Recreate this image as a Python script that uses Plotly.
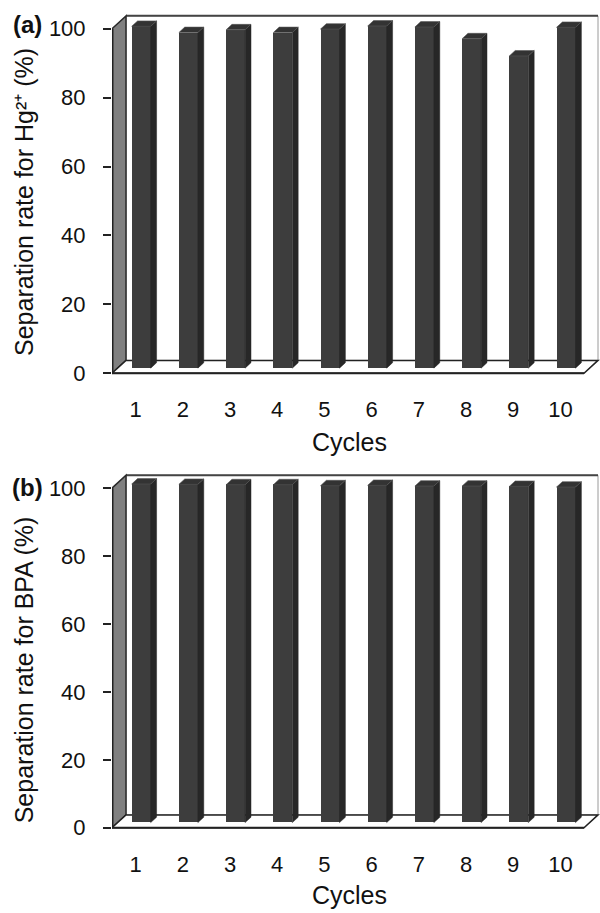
import plotly.graph_objects as go

# ---------------- data ----------------
cycles = [1, 2, 3, 4, 5, 6, 7, 8, 9, 10]
hg_rate = [99.2, 97.4, 98.2, 97.4, 98.4, 99.3, 99.0, 95.6, 90.6, 98.9]
bpa_rate = [99.7, 99.6, 99.5, 99.5, 99.2, 99.3, 99.1, 99.1, 99.0, 98.8]
y_ticks = [0, 20, 40, 60, 80, 100]
x_tick_labels = [str(c) for c in cycles]
panel_labels = ["(a)", "(b)"]
y_titles = ["Separation rate for Hg²⁺ (%)", "Separation rate for BPA (%)"]
x_title = "Cycles"

# ---------------- layout constants (pixels) ----------------
W, H = 600, 913
AX_LEFT, AX_RIGHT = 112, 600
CAT_PX = 47.2            # pixels per category on the front plane
DEPTH_X, DEPTH_Y = 14, 13  # 3D depth offset in pixels
BAR_W_PX = 19
BAR_F0 = 0.40            # depth fraction of bar front face
BAR_DD = 0.42            # bar depth fraction
FONT = "Liberation Sans, Arial, sans-serif"

panels = [
    dict(values=hg_rate, top=16, zero=377, hundred=29, label_y=25, title_y=204, cyc_y=446),
    dict(values=bpa_rate, top=480, zero=836, hundred=493, label_y=492, title_y=677, cyc_y=904),
]

fig = go.Figure()
shapes = []
annotations = []
n = len(cycles)
x0 = cycles[0] - 0.5
x1 = cycles[-1] + 0.5
xr = [x0, x0 + (AX_RIGHT - AX_LEFT) / CAT_PX]
dxu = DEPTH_X / CAT_PX
bw = BAR_W_PX / CAT_PX

def path(pts):
    return "M " + " L ".join(f"{x},{y}" for x, y in pts) + " Z"

for k, p in enumerate(panels):
    ppu = (p["zero"] - p["hundred"]) / 100.0
    dyu = DEPTH_Y / ppu
    pad_bot, pad_top = 4, 3
    yr = [-pad_bot / ppu, (p["zero"] - p["top"] + pad_top) / ppu]
    dom = [1 - (p["zero"] + pad_bot) / H, 1 - (p["top"] - pad_top) / H]
    sfx = "" if k == 0 else str(k + 1)
    xa, ya = "x" + sfx, "y" + sfx
    ytop = 100 + dyu

    # back wall
    shapes.append(dict(type="path", xref=xa, yref=ya, layer="below",
                       path=path([(x0 + dxu, dyu), (x0 + dxu, ytop), (x1 + dxu, ytop), (x1 + dxu, dyu)]),
                       fillcolor="white", line=dict(color="#9a9a9a", width=1)))
    shapes.append(dict(type="line", xref=xa, yref=ya, layer="below",
                       x0=x0 + dxu, y0=ytop, x1=x1 + dxu, y1=ytop,
                       line=dict(color="#444444", width=2)))
    # left wall
    shapes.append(dict(type="path", xref=xa, yref=ya, layer="below",
                       path=path([(x0, 0), (x0, 100), (x0 + dxu, ytop), (x0 + dxu, dyu)]),
                       fillcolor="#808080", line=dict(color="#2a2a2a", width=1.5)))
    shapes.append(dict(type="line", xref=xa, yref=ya, layer="below",
                       x0=x0, y0=0, x1=x0, y1=100, line=dict(color="#222222", width=3)))
    # floor
    shapes.append(dict(type="path", xref=xa, yref=ya, layer="below",
                       path=path([(x0, 0), (x1, 0), (x1 + dxu, dyu), (x0 + dxu, dyu)]),
                       fillcolor="white", line=dict(color="#222222", width=1.5)))
    shapes.append(dict(type="line", xref=xa, yref=ya, layer="below",
                       x0=x0 - 0.2, y0=0, x1=x1, y1=0, line=dict(color="#222222", width=2)))

    # bars: front faces
    base = BAR_F0 * dyu
    xs = [c + BAR_F0 * dxu for c in cycles]
    fig.add_trace(go.Bar(x=xs, y=p["values"], base=[base] * n, width=bw,
                         marker=dict(color="#3d3d3d", line=dict(width=0)),
                         xaxis=xa, yaxis=ya, showlegend=False, hoverinfo="skip"))
    # side faces and top caps
    sx, sy, tx, ty = [], [], [], []
    for xc, v in zip(xs, p["values"]):
        xl, xrr = xc - bw / 2, xc + bw / 2
        top = base + v
        ddx, ddy = BAR_DD * dxu, BAR_DD * dyu
        sx += [xrr, xrr + ddx, xrr + ddx, xrr, xrr, None]
        sy += [base, base + ddy, top + ddy, top, base, None]
        tx += [xl, xrr, xrr + ddx, xl + ddx, xl, None]
        ty += [top, top, top + ddy, top + ddy, top, None]
    fig.add_trace(go.Scatter(x=sx, y=sy, mode="lines", fill="toself", fillcolor="#272727",
                             line=dict(color="#272727", width=0.5), xaxis=xa, yaxis=ya,
                             showlegend=False, hoverinfo="skip"))
    fig.add_trace(go.Scatter(x=tx, y=ty, mode="lines", fill="toself", fillcolor="#333333",
                             line=dict(color="#555555", width=0.6), xaxis=xa, yaxis=ya,
                             showlegend=False, hoverinfo="skip"))

    fig.update_layout(**{
        ("xaxis" + sfx): dict(domain=[AX_LEFT / W, 1], range=xr, anchor=ya,
                               tickmode="array", tickvals=cycles, ticktext=x_tick_labels,
                               ticks="", showgrid=False, zeroline=False, showline=False,
                               ticklabelstandoff=17,
                               tickfont=dict(family=FONT, size=22, color="#111111")),
        ("yaxis" + sfx): dict(domain=dom, range=yr, anchor=xa,
                               tickmode="array", tickvals=y_ticks,
                               ticks="outside", ticklen=8, tickwidth=1.5, tickcolor="#222222",
                               showgrid=False, zeroline=False, showline=False,
                               ticklabelstandoff=13,
                               tickfont=dict(family=FONT, size=22, color="#111111")),
    })

    common = dict(xref="paper", yref="paper", showarrow=False, xanchor="center", yanchor="middle")
    annotations.append(dict(text="<b>" + panel_labels[k] + "</b>", x=27 / W, y=1 - p["label_y"] / H,
                            font=dict(family=FONT, size=24, color="#111111"), **common))
    annotations.append(dict(text=y_titles[k], x=24 / W, y=1 - p["title_y"] / H, textangle=-90,
                            font=dict(family=FONT, size=25, color="#111111"), **common))
    annotations.append(dict(text=x_title, x=349 / W, y=1 - p["cyc_y"] / H,
                            font=dict(family=FONT, size=25, color="#111111"), **common))

fig.update_layout(width=W, height=H, margin=dict(l=0, r=0, t=0, b=0),
                  paper_bgcolor="white", plot_bgcolor="rgba(0,0,0,0)",
                  shapes=shapes, annotations=annotations, bargap=0)
fig.write_html("out.html", config={"displayModeBar": False},
               post_script="document.body.style.margin='0px';document.body.style.overflow='hidden';")
